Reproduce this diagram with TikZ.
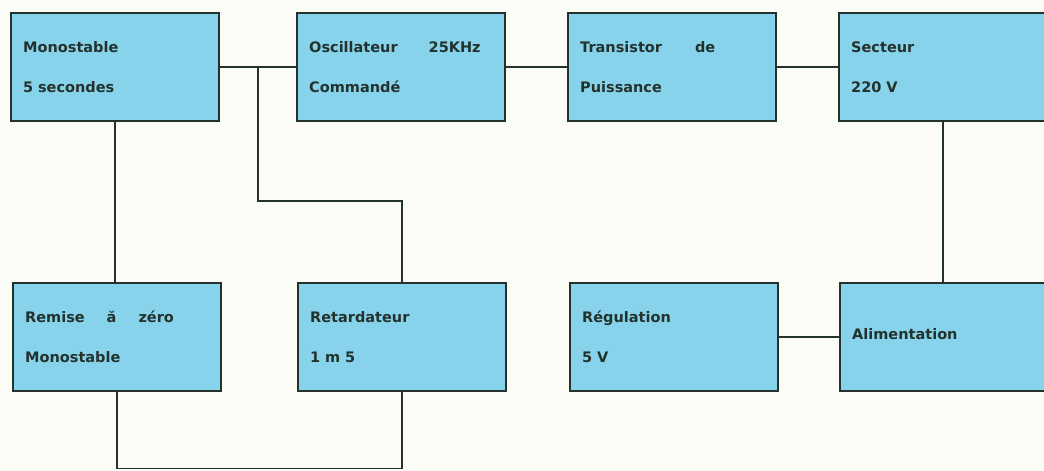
\documentclass[tikz,border=0pt]{standalone}
\usepackage{fontspec}
\setmainfont{DejaVu Sans}
\usetikzlibrary{positioning,calc}
\definecolor{boxfill}{RGB}{134,211,235}
\definecolor{inkline}{RGB}{36,50,46}
\definecolor{paper}{RGB}{252,252,247}
\begin{document}
\begin{tikzpicture}[x=1pt,y=-1pt,
  every node/.style={font=\bfseries\fontsize{14.5}{17}\selectfont,text=inkline},
  blok/.style={draw=inkline,line width=2.4pt,fill=boxfill,anchor=north west,
    minimum height=108pt,text width=184pt,inner xsep=12pt,align=left},
  wire/.style={draw=inkline,line width=1.6pt}]
\fill[paper] (0,0) rectangle (1044,471);
\clip (0,0) rectangle (1044,471);
% top row
\node[blok] (mono) at (10,12) {Monostable\\[23pt]5 secondes};
\node[blok] (osc) at (296,12) {Oscillateur\hspace*{31pt}25KHz\\[23pt]Command\'e};
\node[blok] (trans) at (567,12) {Transistor\hspace*{33pt}de\\[23pt]Puissance};
\node[blok] (secteur) at (838,12) {Secteur\\[23pt]220 V};
% bottom row
\node[blok] (remise) at (12,282) {Remise\hspace*{22pt}ă\hspace*{22pt}zéro\\[23pt]Monostable};
\node[blok] (retard) at (297,282) {Retardateur\\[23pt]1 m 5};
\node[blok] (regul) at (569,282) {Régulation\\[23pt]5 V};
\node[blok] (alim) at (839,282) {\raisebox{6pt}{Alimentation}};
% connectors
\coordinate (br) at ($(mono.east)!0.5!(osc.west)$);
\coordinate (knee) at ($(br)+(0,134)$);
\coordinate (loop) at ($(remise.south)+(0,76)$);
\draw[wire] (mono.east) -- (osc.west);
\draw[wire] (osc.east) -- (trans.west);
\draw[wire] (trans.east) -- (secteur.west);
\draw[wire] (br) -- (knee) -| (retard.north);
\draw[wire] (mono.south) -- (mono.south |- remise.north);
\draw[wire] (remise.south) -- (loop) -| (retard.south);
\draw[wire] (secteur.south) -- (secteur.south |- alim.north);
\draw[wire] (regul.east) -- (regul.east -| alim.west);
\end{tikzpicture}
\end{document}
